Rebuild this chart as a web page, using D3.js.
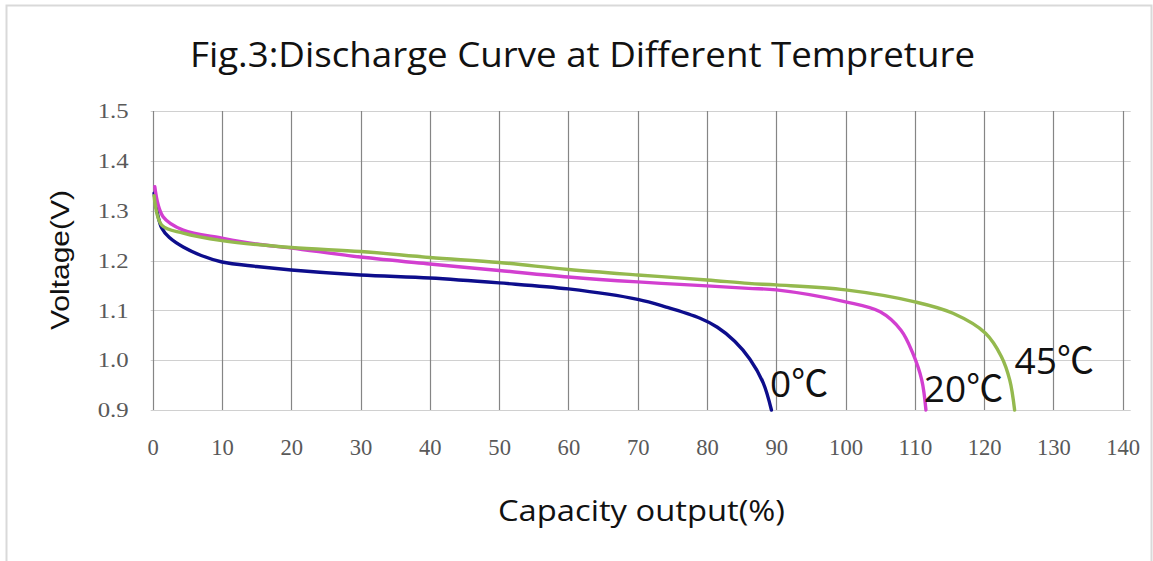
<!DOCTYPE html>
<html>
<head>
<meta charset="utf-8">
<script src="https://cdn.jsdelivr.net/npm/d3@7"></script>
<style>
  html, body { margin: 0; padding: 0; background: #fff; }
  svg { display: block; }
</style>
</head>
<body>
<svg id="chart" width="1153" height="561"></svg>
<script>
// ---- data ----
const titleText = "Fig.3:Discharge Curve at Different Tempreture";
const xTitle = "Capacity output(%)";
const yTitle = "Voltage(V)";
const xTicks = [0,10,20,30,40,50,60,70,80,90,100,110,120,130,140];
const yTicks = [0.9,1.0,1.1,1.2,1.3,1.4,1.5];

const seriesNames = ["0℃", "20℃", "45℃"];
const seriesColors = ["#0d0d8c", "#d23fd0", "#94b94e"];

const cap0 = [0.2,1.3,2.5,4.4,7,10,15,20,30,40,50,60,70,74,79,81.5,84,86.2,88.1,89.3];
const volt0 = [1.335,1.265,1.245,1.227,1.21,1.197,1.188,1.181,1.171,1.165,1.155,1.143,1.122,1.107,1.084,1.066,1.038,1.002,0.955,0.9];

const cap20 = [0.3,1.5,4.4,10,15,20,30,40,50,60,70,80,86,90,100,105,108,109.7,111,111.6];
const volt20 = [1.348,1.288,1.261,1.245,1.233,1.225,1.207,1.193,1.18,1.167,1.157,1.149,1.144,1.141,1.117,1.097,1.06,1.014,0.96,0.9];

const cap45 = [0.2,1.3,4.4,10,20,30,40,50,60,70,80,86,90,100,110,115.5,120.2,122.5,123.7,124.4];
const volt45 = [1.33,1.271,1.255,1.24,1.226,1.218,1.206,1.196,1.182,1.171,1.161,1.154,1.151,1.141,1.117,1.094,1.054,1.007,0.96,0.9];

// label anchors (data coordinates: capacity, voltage at baseline)
const labelCap = [89.1, 111.3, 124.4];
const labelVolt = [0.926, 0.916, 0.972];

// ---- layout ----
const svg = d3.select("#chart");
const pLeft = 152.7, pRight = 1122.7, pTop = 111, pBottom = 410;

const x = d3.scaleLinear().domain([0, 140]).range([pLeft, pRight]);
const y = d3.scaleLinear().domain([0.9, 1.5]).range([pBottom, pTop]);

// outer frame
svg.append("rect")
  .attr("x", 6.5).attr("y", 5.5).attr("width", 1145).attr("height", 600)
  .attr("fill", "none").attr("stroke", "#d9d9d9").attr("stroke-width", 2);

// horizontal gridlines
svg.append("g").selectAll("line").data(yTicks).join("line")
  .attr("x1", pLeft - 2).attr("x2", pRight + 8)
  .attr("y1", d => Math.round(y(d)) + 0.5).attr("y2", d => Math.round(y(d)) + 0.5)
  .attr("stroke", "#d0d0d0").attr("stroke-width", 1.2);

// vertical gridlines
svg.append("g").selectAll("line").data(xTicks).join("line")
  .attr("x1", d => Math.round(x(d)) + 0.5).attr("x2", d => Math.round(x(d)) + 0.5)
  .attr("y1", pTop).attr("y2", pBottom)
  .attr("stroke", "#858585").attr("stroke-width", 1.2);

// y tick labels via axis
const yAxis = d3.axisLeft(y).tickValues(yTicks).tickFormat(d3.format(".1f")).tickSize(0).tickPadding(24);
const gy = svg.append("g").attr("transform", `translate(${pLeft},0)`).call(yAxis);
gy.select(".domain").remove();
gy.selectAll("text")
  .attr("font-family", "'Liberation Serif', serif")
  .attr("font-size", 21).attr("fill", "#595959")
  .attr("textLength", 31).attr("lengthAdjust", "spacingAndGlyphs");

// x tick labels via axis
const xAxis = d3.axisBottom(x).tickValues(xTicks).tickFormat(d3.format("d")).tickSize(0).tickPadding(28);
const gx = svg.append("g").attr("transform", `translate(0,${pBottom})`).call(xAxis);
gx.select(".domain").remove();
gx.selectAll("text")
  .attr("font-family", "'Liberation Serif', serif")
  .attr("font-size", 24).attr("fill", "#595959")
  .attr("textLength", d => String(d).length * 11.3).attr("lengthAdjust", "spacingAndGlyphs");

// lines
const caps = [cap0, cap20, cap45];
const volts = [volt0, volt20, volt45];
const line = d3.line().x(d => x(d[0])).y(d => y(d[1])).curve(d3.curveCatmullRom.alpha(0.5));
caps.forEach((c, i) => {
  const pts = c.map((v, j) => [v, volts[i][j]]);
  svg.append("path").datum(pts)
    .attr("d", line)
    .attr("fill", "none")
    .attr("stroke", seriesColors[i])
    .attr("stroke-width", 3.4)
    .attr("stroke-linejoin", "round")
    .attr("stroke-linecap", "round");
});

// series labels
seriesNames.forEach((n, i) => {
  svg.append("text")
    .attr("x", x(labelCap[i])).attr("y", y(labelVolt[i]))
    .attr("font-family", "'Open Sans', 'Noto Sans CJK SC', sans-serif")
    .attr("font-size", 37).attr("fill", "#111")
    .text(n);
});

// title
svg.append("text")
  .attr("x", 582.5).attr("y", 67)
  .attr("text-anchor", "middle")
  .attr("font-family", "'Open Sans', sans-serif")
  .attr("font-size", 34).attr("fill", "#111")
  .attr("textLength", 785).attr("lengthAdjust", "spacingAndGlyphs")
  .text(titleText);

// x title
svg.append("text")
  .attr("x", 641.5).attr("y", 521)
  .attr("text-anchor", "middle")
  .attr("font-family", "'Open Sans', sans-serif")
  .attr("font-size", 29).attr("fill", "#111")
  .attr("textLength", 287).attr("lengthAdjust", "spacingAndGlyphs")
  .text(xTitle);

// y title
svg.append("text")
  .attr("transform", "translate(69,260) rotate(-90)")
  .attr("text-anchor", "middle")
  .attr("font-family", "'Liberation Sans', Arial, sans-serif")
  .attr("font-size", 26).attr("fill", "#111")
  .attr("textLength", 140).attr("lengthAdjust", "spacingAndGlyphs")
  .text(yTitle);
</script>
</body>
</html>
